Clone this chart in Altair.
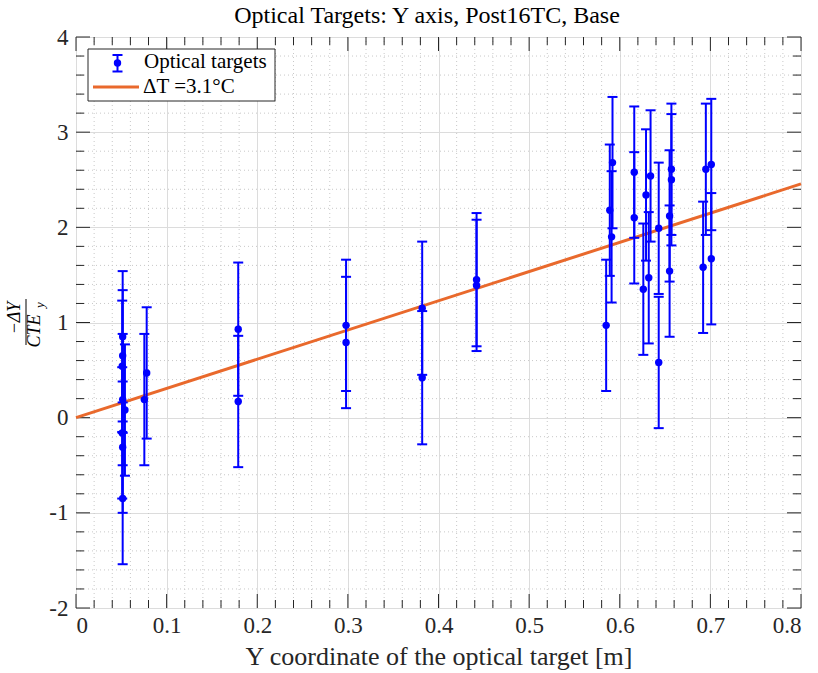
import altair as alt
import pandas as pd

# ---- data ----
target_y = [0.0515, 0.0515, 0.051, 0.0515, 0.054, 0.051, 0.0515, 0.0515,
            0.0754, 0.078, 0.179, 0.179, 0.298, 0.298, 0.382, 0.382,
            0.442, 0.442, 0.585, 0.589, 0.591, 0.592, 0.616, 0.616,
            0.626, 0.629, 0.632, 0.634, 0.643, 0.643, 0.655, 0.655,
            0.657, 0.657, 0.692, 0.695, 0.701, 0.701]
ratio = [0.85, 0.65, 0.54, 0.19, 0.08, -0.16, -0.31, -0.85,
         0.19, 0.47, 0.93, 0.17, 0.97, 0.79, 1.15, 0.42,
         1.45, 1.39, 0.97, 2.18, 1.90, 2.68, 2.58, 2.10,
         1.35, 2.34, 1.47, 2.54, 1.99, 0.58, 1.54, 2.12,
         2.61, 2.50, 1.58, 2.61, 2.66, 1.67]
err = [0.69, 0.69, 0.69, 0.69, 0.69, 0.69, 0.69, 0.69,
       0.69, 0.69, 0.70, 0.69, 0.69, 0.69, 0.70, 0.70,
       0.70, 0.69, 0.69, 0.69, 0.69, 0.69, 0.69, 0.69,
       0.69, 0.69, 0.69, 0.69, 0.69, 0.69, 0.69, 0.69,
       0.69, 0.69, 0.69, 0.69, 0.69, 0.69]

fit_x = [0.0, 0.8]
fit_y = [0.0, 2.456]

x_major = [0, 0.1, 0.2, 0.3, 0.4, 0.5, 0.6, 0.7, 0.8]
y_major = [-2, -1, 0, 1, 2, 3, 4]
x_minor = [round(i * 0.02, 2) for i in range(41) if i % 5 != 0]
y_minor = [round(-2 + i * 0.2, 1) for i in range(31) if i % 5 != 0]

title_text = "Optical Targets: Y axis, Post16TC, Base"
x_title = "Y coordinate of the optical target [m]"
legend_labels = ["Optical targets", "ΔT =3.1°C"]

# ---- styling ----
W, H = 725, 571
FONT = "Liberation Serif"
BLUE = "#0000ff"
ORANGE = "#E9692C"
AXC = "#262626"

pts = pd.DataFrame({"x": target_y, "y": ratio, "e": err})
pts["lo"] = pts["y"] - pts["e"]
pts["hi"] = pts["y"] + pts["e"]
fit = pd.DataFrame({"x": fit_x, "y": fit_y})

xs = alt.Scale(domain=[0, 0.8], nice=False, zero=False)
ys = alt.Scale(domain=[-2, 4], nice=False, zero=False)

xaxis = alt.Axis(values=x_major, grid=True, gridColor="#dcdcdc", gridWidth=1,
                 ticks=False, domain=False, title=x_title, labelExpr="'' + datum.value",
                 labelFont=FONT, labelFontSize=23, labelColor=AXC, labelPadding=6,
                 titleFont=FONT, titleFontSize=26, titleFontWeight="normal",
                 titleColor=AXC, titlePadding=6)
yaxis = alt.Axis(values=y_major, grid=True, gridColor="#dcdcdc", gridWidth=1,
                 ticks=False, domain=False, title=None, labelExpr="'' + datum.value",
                 labelFont=FONT, labelFontSize=23, labelColor=AXC, labelPadding=8)


def X(f):
    return alt.X(f, type="quantitative", scale=xs, axis=xaxis)


def Y(f):
    return alt.Y(f, type="quantitative", scale=ys, axis=yaxis)


xmin_df = pd.DataFrame({"x": x_minor})
ymin_df = pd.DataFrame({"y": y_minor})
xmaj_df = pd.DataFrame({"x": x_major})
ymaj_df = pd.DataFrame({"y": y_major})

minor_grid_x = alt.Chart(xmin_df).mark_rule(color="#c8c8c8", strokeWidth=1, strokeDash=[1, 3]).encode(
    x=X("x"), y=alt.value(0), y2=alt.value(H))
minor_grid_y = alt.Chart(ymin_df).mark_rule(color="#c8c8c8", strokeWidth=1, strokeDash=[1, 3]).encode(
    y=Y("y"), x=alt.value(0), x2=alt.value(W))

TM, Tm = 14, 8
ticks = []
for df, L in ((xmaj_df, TM), (xmin_df, Tm)):
    ticks.append(alt.Chart(df).mark_rule(color=AXC, strokeWidth=1).encode(
        x=X("x"), y=alt.value(H), y2=alt.value(H - L)))
    ticks.append(alt.Chart(df).mark_rule(color=AXC, strokeWidth=1).encode(
        x=X("x"), y=alt.value(0), y2=alt.value(L)))
for df, L in ((ymaj_df, TM), (ymin_df, Tm)):
    ticks.append(alt.Chart(df).mark_rule(color=AXC, strokeWidth=1).encode(
        y=Y("y"), x=alt.value(0), x2=alt.value(L)))
    ticks.append(alt.Chart(df).mark_rule(color=AXC, strokeWidth=1).encode(
        y=Y("y"), x=alt.value(W), x2=alt.value(W - L)))

bars = alt.Chart(pts).mark_rule(color=BLUE, strokeWidth=2).encode(
    x=X("x"), y=Y("lo"), y2="hi")
cap_lo = alt.Chart(pts).mark_rule(color=BLUE, strokeWidth=2, xOffset=-5, x2Offset=5).encode(
    x=X("x"), x2="x", y=Y("lo"))
cap_hi = alt.Chart(pts).mark_rule(color=BLUE, strokeWidth=2, xOffset=-5, x2Offset=5).encode(
    x=X("x"), x2="x", y=Y("hi"))
dots = alt.Chart(pts).mark_circle(color=BLUE, size=55, opacity=1).encode(
    x=X("x"), y=Y("y"))

line = alt.Chart(fit).mark_line(color=ORANGE, strokeWidth=3).encode(
    x=X("x"), y=Y("y"))

one = pd.DataFrame({"k": [0]})
leg_box = alt.Chart(one).mark_rect(fill="white", stroke=AXC, strokeWidth=1).encode(
    x=alt.value(12), x2=alt.value(199), y=alt.value(12), y2=alt.value(64))
leg_bar = alt.Chart(one).mark_rule(color=BLUE, strokeWidth=2).encode(
    x=alt.value(41.5), y=alt.value(18), y2=alt.value(34.5))
leg_cap1 = alt.Chart(one).mark_rule(color=BLUE, strokeWidth=2).encode(
    x=alt.value(36.5), x2=alt.value(46.5), y=alt.value(18))
leg_cap2 = alt.Chart(one).mark_rule(color=BLUE, strokeWidth=2).encode(
    x=alt.value(36.5), x2=alt.value(46.5), y=alt.value(34.5))
leg_dot = alt.Chart(one).mark_circle(color=BLUE, size=55, opacity=1).encode(
    x=alt.value(41.5), y=alt.value(26))
leg_t1 = alt.Chart(one).mark_text(font=FONT, fontSize=21, align="left", baseline="middle", color="black").encode(
    x=alt.value(68), y=alt.value(25), text=alt.value(legend_labels[0]))
leg_line = alt.Chart(one).mark_rule(color=ORANGE, strokeWidth=3).encode(
    x=alt.value(17), x2=alt.value(63), y=alt.value(50))
leg_t2 = alt.Chart(one).mark_text(font=FONT, fontSize=21, align="left", baseline="middle", color="black").encode(
    x=alt.value(67), y=alt.value(50), text=alt.value(legend_labels[1]))

# chart title as text (centred where the reference puts it)
title_mark = alt.Chart(one).mark_text(font=FONT, fontSize=24, align="center", baseline="alphabetic",
                                      color="black").encode(
    x=alt.value(351), y=alt.value(-14), text=alt.value(title_text))

# y-axis label as a fraction: -ΔY / CTE_y
ylab_num = alt.Chart(one).mark_text(font=FONT, fontSize=18, fontStyle="italic", angle=270,
                                    align="center", baseline="middle", color="black").encode(
    x=alt.value(-61), y=alt.value(281), text=alt.value("−ΔY"))
ylab_bar = alt.Chart(one).mark_rule(color="black", strokeWidth=1).encode(
    x=alt.value(-50), y=alt.value(262), y2=alt.value(308))
ylab_den = alt.Chart(one).mark_text(font=FONT, fontSize=18, fontStyle="italic", angle=270,
                                    align="center", baseline="middle", color="black").encode(
    x=alt.value(-41.5), y=alt.value(294), text=alt.value("CTE"))
ylab_sub = alt.Chart(one).mark_text(font=FONT, fontSize=13, fontStyle="italic", angle=270,
                                    align="center", baseline="middle", color="black").encode(
    x=alt.value(-36), y=alt.value(268), text=alt.value("y"))

chart = alt.layer(
    minor_grid_x, minor_grid_y, *ticks, line, bars, cap_lo, cap_hi, dots,
    leg_box, leg_bar, leg_cap1, leg_cap2, leg_dot, leg_t1, leg_line, leg_t2,
    title_mark, ylab_num, ylab_bar, ylab_den, ylab_sub,
).properties(
    width=W, height=H,
    autosize=alt.AutoSizeParams(type="none"),
    padding={"left": 76, "top": 37, "right": 17, "bottom": 65},
).configure_view(stroke=AXC, strokeWidth=1).configure(background="white")

chart.save("out.html", embed_options={"renderer": "svg", "actions": False})
